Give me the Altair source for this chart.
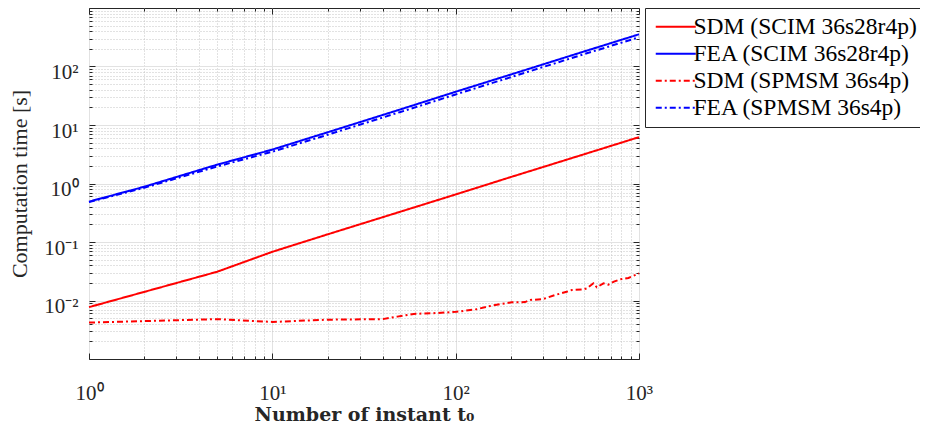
import altair as alt
import pandas as pd

# ---------------- data ----------------
series_names = ["SDM (SCIM 36s28r4p)", "FEA (SCIM 36s28r4p)",
                "SDM (SPMSM 36s4p)", "FEA (SPMSM 36s4p)"]
series_colors = ["#ff0000", "#0000ff", "#ff0000", "#0000ff"]
series_dashes = [[1, 0], [1, 0], [6, 3, 2, 3], [6, 3, 2, 3]]

t_sdm_scim = [1, 5, 10, 20, 50, 100, 200, 500, 1000]
v_sdm_scim = [0.0077, 0.031, 0.068, 0.135, 0.33, 0.65, 1.29, 3.15, 6.2]

t_fea = [1, 2, 5, 10, 20, 50, 100, 200, 500, 1000]
v_fea_scim = [0.49, 0.88, 2.1, 3.8, 7.5, 18.5, 37, 73, 180, 355]
v_fea_spmsm = [0.48, 0.845, 1.95, 3.5, 6.8, 16.7, 33.3, 65.7, 162, 316]

t_sdm_spmsm = [1, 5, 10, 20, 40, 48, 59, 79, 101, 130, 161, 202, 239, 255,
               300, 348, 403, 430, 497, 519, 564, 589, 640, 681, 730, 789,
               876, 1000]
v_sdm_spmsm = [0.0042, 0.0048, 0.0043, 0.0047, 0.0048, 0.0053, 0.0059, 0.0061,
               0.0064, 0.0071, 0.0083, 0.0093, 0.0094, 0.0102, 0.0106, 0.0124,
               0.0141, 0.0151, 0.0155, 0.0161, 0.0197, 0.0168, 0.0197, 0.0186,
               0.0210, 0.0230, 0.0243, 0.0290]

x_major = [1, 10, 100, 1000]
x_major_labels = ["10⁰", "10¹", "10²", "10³"]
y_major = [0.01, 0.1, 1, 10, 100]
y_major_labels = ["10⁻²", "10⁻¹", "10⁰", "10¹", "10²"]
x_minor = [m * 10 ** k for k in range(0, 3) for m in range(2, 10)]
y_minor = [round(m * 10.0 ** k, 6) for k in range(-3, 3) for m in range(2, 10)]
x_all = sorted(x_major + x_minor)
y_all = sorted(y_major + y_minor)

rows = []
for t, v in zip(t_sdm_scim, v_sdm_scim):
    rows.append({"t": t, "time": v, "series": series_names[0]})
for t, v in zip(t_fea, v_fea_scim):
    rows.append({"t": t, "time": v, "series": series_names[1]})
for t, v in zip(t_sdm_spmsm, v_sdm_spmsm):
    rows.append({"t": t, "time": v, "series": series_names[2]})
for t, v in zip(t_fea, v_fea_spmsm):
    rows.append({"t": t, "time": v, "series": series_names[3]})
df = pd.DataFrame(rows)

# ---------------- layout ----------------
W, H = 550, 351
PAD_L, PAD_T = 81, 0
TOTAL_W, TOTAL_H = 912, 416
INK = "#262626"
MAJOR = "abs(log(datum.value)/LN10 - round(log(datum.value)/LN10)) < 1e-6"


def label_expr(vals, labels):
    expr = "''"
    for v, l in reversed(list(zip(vals, labels))):
        expr = f"(abs(datum.value - {v!r}) < {v!r} * 1e-6) ? '{l}' : {expr}"
    return expr


xscale = alt.Scale(type="log", domain=[1, 1000], nice=False)
yscale = alt.Scale(type="log", domain=[0.001, 1000], nice=False)

grid_color = {"condition": {"test": MAJOR, "value": "#e2e2e2"}, "value": "#c4c4c4"}
grid_dash = {"condition": {"test": MAJOR, "value": []}, "value": [1, 2]}

x_axis_main = alt.Axis(
    orient="bottom", values=x_all, ticks=False, tickSize=0, domain=False,
    grid=True, gridColor=grid_color, gridDash=grid_dash, gridWidth=1,
    labelExpr=label_expr(x_major, x_major_labels), labelOverlap=False,
    labelFlush=False, labelFont="Liberation Serif", labelFontSize=21,
    labelColor=INK, labelBaseline="alphabetic", labelPadding=40,
    title="Number of instant t₀", titleFont="DejaVu Serif",
    titleFontWeight="bold", titleFontSize=19, titleColor=INK,
    titleX=W / 2, titleY=61, titleBaseline="alphabetic", titleAlign="center",
)
y_axis_main = alt.Axis(
    orient="left", values=y_all, ticks=False, tickSize=0, domain=False,
    grid=True, gridColor=grid_color, gridDash=grid_dash, gridWidth=1,
    labelExpr=label_expr(y_major, y_major_labels), labelOverlap=False,
    labelFlush=False, labelFont="Liberation Serif", labelFontSize=21,
    labelColor=INK, labelBaseline="alphabetic", labelOffset=12,
    labelPadding=11, labelAlign="right",
    title="Computation time [s]", titleFont="Liberation Serif",
    titleFontWeight="normal", titleFontSize=22, titleColor=INK,
    titleX=-69.5, titleY=H / 2, titleAngle=270, titleBaseline="middle",
    titleAlign="center",
)


def tick_axis(orient, offset, values, size):
    return alt.Axis(orient=orient, offset=offset, values=values, ticks=True,
                    tickSize=size, tickColor=INK, tickWidth=1, labels=False,
                    domain=False, grid=False, title=None)


base = alt.Chart(df)

grid_layer = base.mark_line(strokeOpacity=0).encode(
    x=alt.X("t:Q", scale=xscale, axis=x_axis_main),
    y=alt.Y("time:Q", scale=yscale, axis=y_axis_main),
    detail="series:N",
)

legend_cfg = dict(
    orient="none", legendX=W + 6, legendY=0, title=None,
    labelFont="Liberation Serif", labelFontSize=23.5, labelColor="#000000",
    symbolType="M-5,0H5", symbolSize=64, symbolStrokeWidth=2,
    symbolOffset=12, labelOffset=6,
    strokeColor=INK, fillColor="white", padding=7, rowPadding=2,
    labelLimit=500,
)

lines = base.mark_line(strokeWidth=2, strokeCap="butt").encode(
    x=alt.X("t:Q", scale=xscale, axis=None),
    y=alt.Y("time:Q", scale=yscale, axis=None),
    color=alt.Color(
        "series:N",
        scale=alt.Scale(domain=series_names, range=series_colors),
        sort=series_names,
        legend=alt.Legend(**legend_cfg),
    ),
    strokeDash=alt.StrokeDash(
        "series:N",
        scale=alt.Scale(domain=series_names, range=series_dashes),
        sort=series_names,
        legend=alt.Legend(**legend_cfg),
    ),
)


def tick_layer(xo, xoff, yo, yoff, xv, yv, size):
    return base.mark_line(strokeOpacity=0).encode(
        x=alt.X("t:Q", scale=xscale, axis=tick_axis(xo, xoff, xv, size)),
        y=alt.Y("time:Q", scale=yscale, axis=tick_axis(yo, yoff, yv, size)),
        detail="series:N",
    )


ticks_a = tick_layer("top", -H, "right", -W, x_major, y_major + [0.001, 1000], 6)
ticks_b = tick_layer("bottom", -H, "left", -W, x_major, y_major + [0.001, 1000], 6)
ticks_c = tick_layer("top", -H, "right", -W, x_minor, y_minor, 3)
ticks_d = tick_layer("bottom", -H, "left", -W, x_minor, y_minor, 3)

chart = (
    alt.layer(grid_layer, ticks_a, ticks_b, ticks_c, ticks_d, lines)
    .resolve_axis(x="independent", y="independent")
    .properties(
        width=W, height=H,
        autosize=alt.AutoSizeParams(type="none"),
        padding={"left": PAD_L, "top": PAD_T,
                 "right": TOTAL_W - PAD_L - W, "bottom": TOTAL_H - PAD_T - H},
        background="white",
    )
    .configure_view(stroke=INK, strokeWidth=1)
)

chart.save("out.html", embed_options={"renderer": "svg", "actions": False})
